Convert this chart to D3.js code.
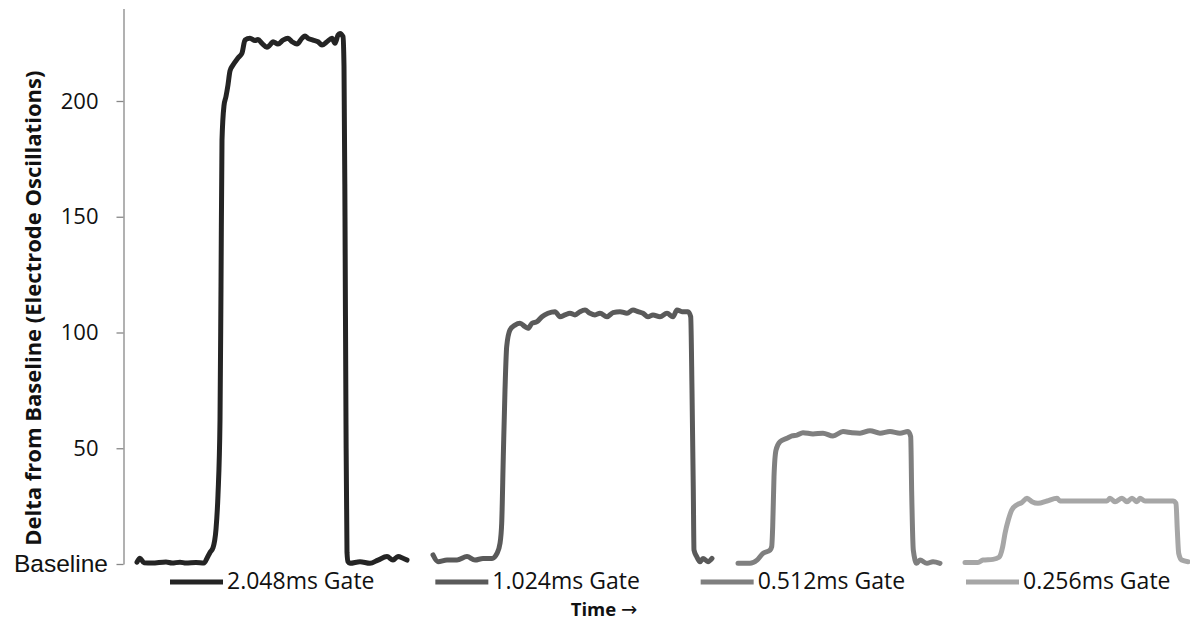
<!DOCTYPE html>
<html>
<head>
<meta charset="utf-8">
<script src="https://cdn.jsdelivr.net/npm/d3@7/dist/d3.min.js"></script>
<style>
  html, body { margin: 0; padding: 0; background: #fff; }
  svg { display: block; }
</style>
</head>
<body>
<svg class="chartContainer" width="1190" height="621" viewBox="0 0 1190 621"></svg>
<script>
// time is in samples, value is delta from baseline (electrode oscillations)
const gate2048 = [
  [13, 0.8], [16, 2.5], [20, 0.5], [28, 0.4], [42, 0.9], [48, 0.4], [56, 0.8], [62, 0.4], [72, 0.7], [80, 0.4],
  [83, 2.5], [86, 5], [89, 7], [92, 15], [94, 30], [96, 62], [97, 120], [98, 183], [100, 198], [102, 202],
  [104, 207], [106, 213], [109, 215.5], [114, 218.6], [118, 220.7], [121, 226.3], [126, 227.1], [131, 226.1],
  [134, 226.6], [138, 224.9], [143, 223.2], [146, 224.2], [149, 225.6], [154, 224.6], [159, 226.3], [164, 227.1],
  [168, 225.6], [173, 224.6], [178, 227.1], [181, 228.1], [184, 227.1], [189, 226.3], [194, 225.6], [198, 224.2],
  [203, 225.6], [208, 227.1], [211, 224.9], [214, 228.5], [216, 229.2], [219, 227.8], [220, 215], [221, 150],
  [222, 60], [223, 5], [224, 1], [226, 0.3], [236, 1], [246, 0.3], [254, 1.7], [263, 3.2], [269, 1.7],
  [274, 3.2], [279, 2.5], [283, 1.7]
]
const gate1024 = [
  [309, 3.9], [314, 1.0], [323, 1.7], [333, 1.7], [343, 3.2], [351, 1.7], [359, 2.4], [368, 2.4], [373, 4.6],
  [376, 8.9], [377.7, 17.6], [379.3, 46.4], [381, 75.2], [382.7, 93.9], [386, 101.1], [391, 103.2], [396, 104],
  [401, 102.5], [404, 101.8], [408, 104], [413, 104.7], [418, 106.8], [424, 108.3], [431, 109], [436, 106.8],
  [441, 107.6], [446, 108.3], [451, 107.6], [456, 109], [461, 109.7], [466, 108.3], [471, 107.6], [476, 108.3],
  [483, 106.8], [489, 108.6], [496, 109], [503, 108.3], [509, 109.7], [514, 109], [519, 108.3], [524, 106.8],
  [529, 107.6], [536, 106.8], [543, 108.3], [549, 106.8], [553, 109.7], [558, 109], [564, 109], [566.7, 106.8],
  [568, 75], [569.3, 32], [570, 6], [572.7, 3.2], [576, 1], [579, 2.4], [584, 1], [588, 2.4]
]
const gate512 = [
  [614, 0.3], [626, 0.3], [633, 1.7], [639, 4.6], [646, 6], [647.7, 7.5], [648.7, 16.1], [650, 37.7],
  [652, 49.2], [656, 52.8], [663, 54.3], [668, 55.3], [673, 55.7], [679, 56.7], [689, 56.2], [699, 56.5],
  [709, 55.3], [719, 57.2], [728, 56.7], [736, 56.5], [746, 57.6], [756, 56.5], [766, 57.2], [776, 56.5],
  [784, 57.2], [786.7, 55], [787.7, 30.5], [789.3, 6], [792.7, 0.3], [796, 1.7], [803, 0.3], [809, 1], [816, 0.3]
]
const gate256 = [
  [841, 0.6], [854, 0.6], [859, 1.7], [869, 2], [875, 2.9], [878.7, 7.5], [881, 13.2], [884.3, 19],
  [887.7, 23.3], [892.7, 25.5], [897.7, 26.5], [903, 28.4], [908, 26.9], [914, 26.2], [923, 27.2], [933, 28.4],
  [936, 27.2], [949, 27.2], [966, 27.2], [983, 27.2], [986, 28.4], [991, 26.9], [998, 28.4], [1003, 26.9],
  [1008, 28.4], [1013, 26.9], [1016, 28.4], [1021, 27.2], [1036, 27.2], [1049, 27.2], [1052, 26.2],
  [1053.3, 14.7], [1054.7, 4.6], [1057.7, 1.7], [1064, 1]
]

const seriesNames = ['2.048ms Gate', '1.024ms Gate', '0.512ms Gate', '0.256ms Gate']
const seriesColors = ['#242424', '#5a5a5a', '#7f7f7f', '#a6a6a6']
const yTicks = [0, 50, 100, 150, 200]

const series = [gate2048, gate1024, gate512, gate256].map((values, i) => ({
  name: seriesNames[i], color: seriesColors[i], values
}))

const svg = d3.select('svg.chartContainer')

const xScale = d3.scaleLinear().domain([0, 1066]).range([124, 1190])
const yScale = d3.scaleLinear().domain([0, 240]).range([564, 8.4])

// y axis, "Baseline" replaces the zero tick
const yAxisG = svg.append('g')
  .attr('transform', 'translate(123.5,0)')
  .call(d3.axisLeft(yScale)
    .tickValues(yTicks)
    .tickSize(7)
    .tickSizeOuter(0)
    .tickFormat(d => d === 0 ? 'Baseline' : d))
yAxisG.select('.domain').attr('stroke', '#878787').attr('stroke-width', 1.3)
yAxisG.selectAll('.tick line').attr('stroke', '#878787').attr('stroke-width', 1.3)
yAxisG.selectAll('.tick text')
  .attr('fill', '#111')
  .attr('x', d => d === 0 ? -15.5 : -25)
  .style('font-family', d => d === 0 ? 'Liberation Sans, Arial, sans-serif' : 'Open Sans, sans-serif')
  .style('font-size', d => d === 0 ? '24.5px' : '22px')

svg.append('text')
  .attr('transform', `translate(41,${(yScale(0) + yScale(240)) / 2 + 22}) rotate(-90)`)
  .attr('text-anchor', 'middle')
  .style('font-family', 'Open Sans, sans-serif')
  .style('font-weight', 'bold')
  .style('font-size', '22px')
  .attr('fill', '#111')
  .text('Delta from Baseline (Electrode Oscillations)')

// lines
const line = d3.line()
  .x(d => xScale(d[0]))
  .y(d => yScale(d[1]))
  .curve(d3.curveMonotoneX)

svg.append('g').selectAll('path.gate')
  .data(series)
  .join('path')
  .attr('class', 'gate')
  .attr('fill', 'none')
  .attr('stroke', d => d.color)
  .attr('stroke-width', 5)
  .attr('stroke-linejoin', 'round')
  .attr('stroke-linecap', 'round')
  .attr('d', d => line(d.values))

// legend, one row under the plot
const legendX = d3.scalePoint().domain(seriesNames).range([170, 966])
const legendG = svg.append('g').selectAll('g.legendItem')
  .data(series)
  .join('g')
  .attr('class', 'legendItem')
  .attr('transform', d => `translate(${legendX(d.name)},582)`)
legendG.append('line')
  .attr('x1', 0).attr('x2', 53)
  .attr('stroke', d => d.color)
  .attr('stroke-width', 5)
legendG.append('text')
  .attr('x', 57)
  .attr('y', 6.5)
  .style('font-family', 'Open Sans, sans-serif')
  .style('font-size', '23px')
  .attr('fill', '#111')
  .text(d => d.name)

const timeLabel = svg.append('text')
  .attr('x', 604)
  .attr('y', 615.5)
  .attr('text-anchor', 'middle')
  .style('font-family', 'Open Sans, sans-serif')
  .style('font-weight', 'bold')
  .style('font-size', '18.5px')
  .attr('fill', '#111')
timeLabel.append('tspan').text('Time ')
timeLabel.append('tspan')
  .style('font-family', 'DejaVu Sans, sans-serif')
  .style('font-weight', 'normal')
  .style('font-size', '19.5px')
  .text('→')
</script>
</body>
</html>
